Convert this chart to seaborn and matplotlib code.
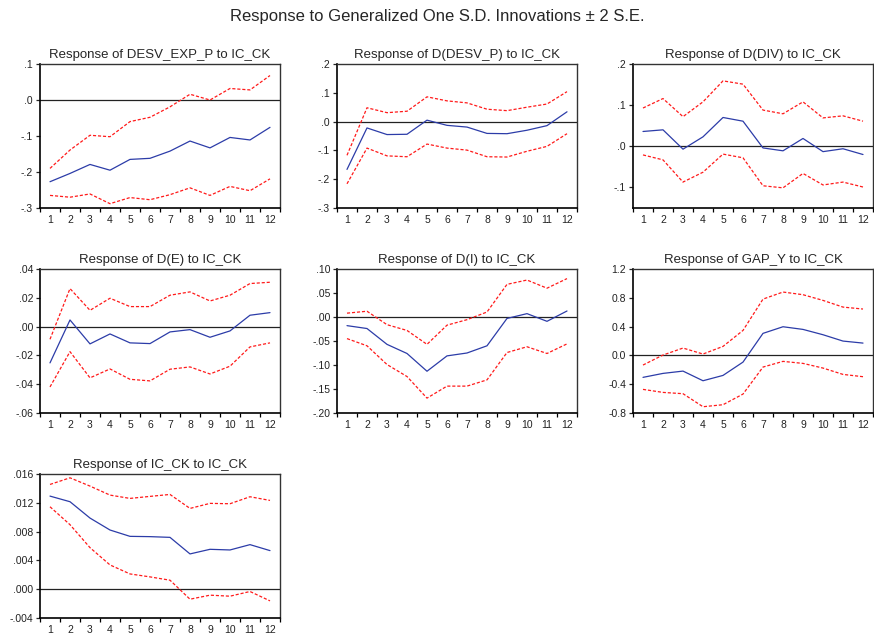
import numpy as np
import pandas as pd
import matplotlib
matplotlib.use("Agg")
import matplotlib.pyplot as plt
import seaborn as sns
from matplotlib.ticker import FixedLocator, FixedFormatter

sns.set_style("ticks")
plt.rcParams['font.family'] = ['Liberation Sans', 'DejaVu Sans']

periods = list(range(1, 13))

titles = [
    "Response of DESV_EXP_P to IC_CK",
    "Response of D(DESV_P) to IC_CK",
    "Response of D(DIV) to IC_CK",
    "Response of D(E) to IC_CK",
    "Response of D(I) to IC_CK",
    "Response of GAP_Y to IC_CK",
    "Response of IC_CK to IC_CK",
]

# Panel 1: DESV_EXP_P
p1_resp = [-0.227, -0.204, -0.179, -0.195, -0.165, -0.162, -0.142, -0.114, -0.133, -0.104, -0.111, -0.076]
p1_up = [-0.190, -0.139, -0.098, -0.102, -0.060, -0.048, -0.019, 0.016, 0.000, 0.032, 0.028, 0.068]
p1_lo = [-0.265, -0.270, -0.261, -0.288, -0.271, -0.277, -0.263, -0.244, -0.265, -0.240, -0.252, -0.219]

# Panel 2: D(DESV_P)
p2_resp = [-0.166, -0.022, -0.045, -0.044, 0.005, -0.013, -0.019, -0.041, -0.042, -0.030, -0.014, 0.034]
p2_up = [-0.117, 0.048, 0.031, 0.036, 0.086, 0.072, 0.065, 0.043, 0.038, 0.050, 0.061, 0.104]
p2_lo = [-0.216, -0.092, -0.119, -0.122, -0.078, -0.092, -0.099, -0.122, -0.123, -0.103, -0.086, -0.042]

# Panel 3: D(DIV)
p3_resp = [0.036, 0.040, -0.007, 0.023, 0.070, 0.061, -0.004, -0.011, 0.019, -0.013, -0.006, -0.020]
p3_up = [0.093, 0.116, 0.072, 0.108, 0.159, 0.151, 0.088, 0.079, 0.108, 0.069, 0.074, 0.061]
p3_lo = [-0.021, -0.033, -0.087, -0.063, -0.019, -0.028, -0.096, -0.101, -0.066, -0.094, -0.087, -0.099]

# Panel 4: D(E)
p4_resp = [-0.0252, 0.0046, -0.0120, -0.0051, -0.0113, -0.0118, -0.0037, -0.0021, -0.0074, -0.0030, 0.0079, 0.0097]
p4_up = [-0.0088, 0.0264, 0.0113, 0.0197, 0.0139, 0.0139, 0.0218, 0.0241, 0.0178, 0.0218, 0.0299, 0.0308]
p4_lo = [-0.0419, -0.0174, -0.0356, -0.0294, -0.0366, -0.0377, -0.0296, -0.0280, -0.0329, -0.0275, -0.0141, -0.0113]

# Panel 5: D(I)
p5_resp = [-0.018, -0.024, -0.057, -0.076, -0.113, -0.081, -0.075, -0.060, -0.003, 0.007, -0.009, 0.0125]
p5_up = [0.008, 0.012, -0.016, -0.028, -0.057, -0.017, -0.0056, 0.0104, 0.068, 0.077, 0.060, 0.080]
p5_lo = [-0.045, -0.060, -0.099, -0.124, -0.169, -0.144, -0.144, -0.131, -0.074, -0.062, -0.076, -0.056]

# Panel 6: GAP_Y
p6_resp = [-0.305, -0.250, -0.218, -0.352, -0.278, -0.093, 0.306, 0.398, 0.361, 0.287, 0.199, 0.171]
p6_up = [-0.134, 0.005, 0.102, 0.019, 0.125, 0.347, 0.782, 0.880, 0.843, 0.764, 0.671, 0.644]
p6_lo = [-0.472, -0.514, -0.532, -0.713, -0.685, -0.537, -0.162, -0.083, -0.111, -0.176, -0.264, -0.296]

# Panel 7: IC_CK
p7_resp = [0.01293, 0.01215, 0.00988, 0.00822, 0.00734, 0.00730, 0.00720, 0.00490, 0.00554, 0.00545, 0.00619, 0.00536]
p7_up = [0.01455, 0.01547, 0.01432, 0.01307, 0.01261, 0.01289, 0.01316, 0.01122, 0.01192, 0.01187, 0.01284, 0.01233]
p7_lo = [0.01145, 0.00896, 0.00577, 0.00337, 0.00212, 0.00171, 0.00125, -0.00139, -0.00083, -0.00097, -0.00032, -0.00162]

# Y-axis ticks and labels per panel
p1_yticks = [-0.3, -0.2, -0.1, 0.0, 0.1]
p1_ylabels = ["-.3", "-.2", "-.1", ".0", ".1"]
p2_yticks = [-0.3, -0.2, -0.1, 0.0, 0.1, 0.2]
p2_ylabels = ["-.3", "-.2", "-.1", ".0", ".1", ".2"]
p3_yticks = [-0.1, 0.0, 0.1, 0.2]
p3_ylabels = ["-.1", ".0", ".1", ".2"]
p4_yticks = [-0.06, -0.04, -0.02, 0.0, 0.02, 0.04]
p4_ylabels = ["-.06", "-.04", "-.02", ".00", ".02", ".04"]
p5_yticks = [-0.20, -0.15, -0.10, -0.05, 0.0, 0.05, 0.10]
p5_ylabels = ["-.20", "-.15", "-.10", "-.05", ".00", ".05", ".10"]
p6_yticks = [-0.8, -0.4, 0.0, 0.4, 0.8, 1.2]
p6_ylabels = ["-0.8", "-0.4", "0.0", "0.4", "0.8", "1.2"]
p7_yticks = [-0.004, 0.0, 0.004, 0.008, 0.012, 0.016]
p7_ylabels = ["-.004", ".000", ".004", ".008", ".012", ".016"]

ylims = [(-0.3, 0.1), (-0.3, 0.2), (-0.15, 0.2), (-0.06, 0.04), (-0.20, 0.10), (-0.8, 1.2), (-0.004, 0.016)]

panels = [
    (p1_resp, p1_up, p1_lo, p1_yticks, p1_ylabels),
    (p2_resp, p2_up, p2_lo, p2_yticks, p2_ylabels),
    (p3_resp, p3_up, p3_lo, p3_yticks, p3_ylabels),
    (p4_resp, p4_up, p4_lo, p4_yticks, p4_ylabels),
    (p5_resp, p5_up, p5_lo, p5_yticks, p5_ylabels),
    (p6_resp, p6_up, p6_lo, p6_yticks, p6_ylabels),
    (p7_resp, p7_up, p7_lo, p7_yticks, p7_ylabels),
]

W, H = 874, 638
fig = plt.figure(figsize=(W / 100, H / 100), dpi=100)

col_left = [40, 337, 633]
row_top = [64, 269, 474]
aw, ah = 240, 144

blue = "#2c3ca8"
red = "#ff1a1a"

for i, (resp, up, lo, yt, yl) in enumerate(panels):
    r, c = divmod(i, 3)
    ax = fig.add_axes([col_left[c] / W, 1 - (row_top[r] + ah) / H, aw / W, ah / H])
    df = pd.DataFrame({
        "period": periods * 3,
        "value": list(resp) + list(up) + list(lo),
        "series": ["resp"] * 12 + ["up"] * 12 + ["lo"] * 12,
    })
    sns.lineplot(data=df[df.series == "up"], x="period", y="value", ax=ax,
                 color=red, linestyle=(0, (2.5, 1.5)), linewidth=0.9)
    sns.lineplot(data=df[df.series == "lo"], x="period", y="value", ax=ax,
                 color=red, linestyle=(0, (2.5, 1.5)), linewidth=0.9)
    sns.lineplot(data=df[df.series == "resp"], x="period", y="value", ax=ax,
                 color=blue, linewidth=0.9)
    ax.axhline(0, color="#222222", linewidth=0.9, zorder=1)
    ax.set_xlim(0.5, 12.5)
    ax.set_ylim(*ylims[i])
    ax.yaxis.set_major_locator(FixedLocator(yt))
    ax.yaxis.set_major_formatter(FixedFormatter(yl))
    ax.xaxis.set_major_locator(FixedLocator(periods))
    ax.xaxis.set_major_formatter(FixedFormatter([str(p) for p in periods]))
    ax.xaxis.set_minor_locator(FixedLocator([p + 0.5 for p in range(0, 13)]))
    ax.tick_params(axis="x", which="major", length=0, labelsize=7.5, pad=5)
    ax.tick_params(axis="x", which="minor", length=3, width=0.9, direction="out", color="black")
    ax.tick_params(axis="y", which="major", length=3, width=0.9, direction="out", labelsize=7.5, pad=2)
    ax.tick_params(axis="both", labelcolor="#222222")
    for s in ["left", "bottom"]:
        ax.spines[s].set_linewidth(1.2)
        ax.spines[s].set_color("black")
    for s in ["top", "right"]:
        ax.spines[s].set_linewidth(1.0)
        ax.spines[s].set_color("#333333")
        ax.spines[s].set_visible(True)
    ax.set_xlabel("")
    ax.set_ylabel("")
    ax.set_title(titles[i], fontsize=9.5, pad=4)

fig.suptitle("Response to Generalized One S.D. Innovations \u00b1 2 S.E.", fontsize=12, y=1 - 17 / H, va="center")

fig.savefig("out.png", dpi=100)
